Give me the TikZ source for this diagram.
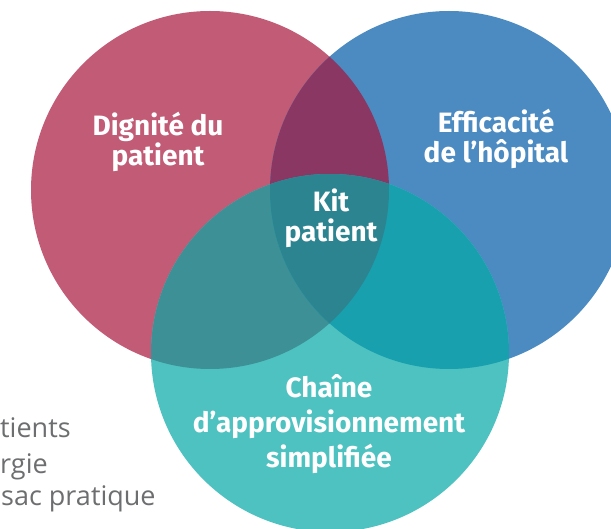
\documentclass[tikz,border=0pt]{standalone}
\usepackage{fontspec}
\setmainfont{Fira Sans}
\newfontfamily\notefont{Open Sans}
\usepackage{tikz}
\usetikzlibrary{positioning}

\definecolor{rosedig}{HTML}{C25B76}
\definecolor{bleuhop}{HTML}{4B8BC1}
\definecolor{turqchaine}{HTML}{4EC2C0}
\definecolor{prune}{HTML}{8A3763}
\definecolor{rosetur}{HTML}{3C9096}
\definecolor{bleutur}{HTML}{18A0AF}
\definecolor{centre}{HTML}{2D8491}
\definecolor{grisnote}{HTML}{6D6E70}

\begin{document}
\begin{tikzpicture}[x=1pt, y=-1pt]
                \useasboundingbox (0,0) rectangle (611,529);
                % Centres of the three circles
                \coordinate (cd) at (210, 190);
                \coordinate (ch) at (449, 190);
                \coordinate (cc) at (330, 353);

                % Circles
                \fill[rosedig] (cd) circle (179pt);
                \fill[bleuhop] (ch) circle (179pt);
                \fill[turqchaine] (cc) circle (179pt);

                % Overlaps
                \begin{scope}
                    \clip (cd) circle (179pt);
                    \fill[prune] (ch) circle (179pt);
                    \fill[rosetur] (cc) circle (179pt);
                \end{scope}
                \begin{scope}
                    \clip (ch) circle (179pt);
                    \fill[bleutur] (cc) circle (179pt);
                \end{scope}
                \begin{scope}
                    \clip (cd) circle (179pt);
                    \clip (ch) circle (179pt);
                    \fill[centre] (cc) circle (179pt);
                \end{scope}

                % Labels
                \node[align=center, text=white, font=\bfseries\fontsize{28}{30}\selectfont] (dignite) at (158, 142) {Dignité du\\patient};
                \node[align=center, text=white, font=\bfseries\fontsize{28}{30}\selectfont] (hopital) at (496, 139) {Efficacité\\de l’hôpital};
                \node[align=center, text=white, font=\bfseries\fontsize{28}{30}\selectfont] (kit) at (331, 218) {Kit\\patient};
                \node[align=center, text=white, font=\bfseries\fontsize{28}{35}\selectfont] (chaine) at (329, 424) {Chaîne\\d’approvisionnement\\simplifiée};

                % Notes on the left
                \node[anchor=base west, inner sep=0, text=grisnote, font=\notefont\fontsize{27}{30}\selectfont] (note1) at (0, 438) {tients};
                \node[anchor=base west, inner sep=0, text=grisnote, font=\notefont\fontsize{27}{30}\selectfont] (note2) at (0, 473) {rgie};
                \node[anchor=base west, inner sep=0, text=grisnote, font=\notefont\fontsize{27}{30}\selectfont] (note3) at (1, 505) {sac pratique};
            \end{tikzpicture}
\end{document}
